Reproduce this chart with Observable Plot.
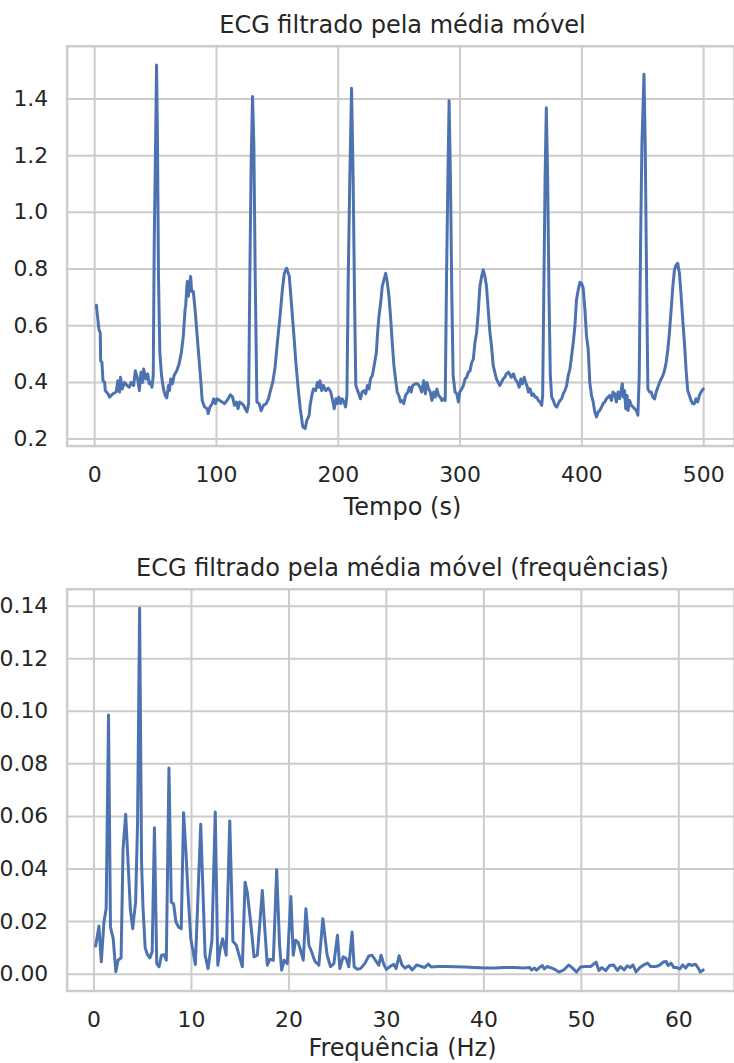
<!DOCTYPE html>
<html>
<head>
<meta charset="utf-8">
<script src="https://cdn.jsdelivr.net/npm/d3@7"></script>
<script src="https://cdn.jsdelivr.net/npm/@observablehq/plot@0.6"></script>
<style>
html,body{margin:0;padding:0;background:#fff;overflow:hidden;width:734px;height:1063px;}
#wrap{position:relative;width:734px;height:1063px;overflow:hidden;font-family:"DejaVu Sans",sans-serif;color:#262626;}
.txt{position:absolute;white-space:nowrap;transform:translateX(-50%);font-size:24px;line-height:1.164;}
.panel{position:absolute;left:0;}
.panel svg{overflow:visible;}
</style>
</head>
<body>
<div id="wrap">
  <div class="txt" style="left:402.5px;top:11.7px">ECG filtrado pela média móvel</div>
  <div class="panel" id="p1" style="top:0px"></div>
  <div class="txt" style="left:402.5px;top:493.7px">Tempo (s)</div>
  <div class="txt" style="left:402.5px;top:554.7px">ECG filtrado pela média móvel (frequências)</div>
  <div class="panel" id="p2" style="top:543px"></div>
  <div class="txt" style="left:402.5px;top:1034.5px">Frequência (Hz)</div>
</div>
<script>
// ---- ECG filtered by moving average (time domain) ----
const ecgT = [1.4,3.5,4.6,4.9,6,6.8,8.2,8.7,10.9,12.2,15,17.7,19,20.4,21.2,22.6,24.5,26.6,28.5,29.9,32,33.4,35.3,36.7,38,39.4,40.2,42.1,43.5,44.8,46.2,47,48.1,48.9,50,50.8,51.6,52.4,53.5,54.9,56.5,57.9,59.2,60.6,61.4,62.5,63.9,65.2,67.4,69.3,71.2,72.8,74.2,74.7,75.5,76.1,76.9,78,78.8,79.6,81,82.9,84.8,87,88.3,90.2,92.4,93.2,94.6,96.5,97.8,99.2,100.5,102.7,104.6,106.5,108.7,111.4,113.3,114.7,116.3,117.7,119,120.9,122.3,123.6,125,126.4,127.4,128.5,129.6,130.7,131.8,133.2,135,136.7,138.6,140.8,142.7,144,146.2,148.1,150,152.2,154.1,155.7,157.6,159.8,161.7,163.6,165.2,167.1,168.8,170.9,172.8,174.2,176.1,176.9,178.3,179.6,181.5,182.9,184.2,185,186.4,187.8,189.7,191.8,193.8,195.4,196.7,198.1,199.2,200.5,201.9,203.3,204.6,206,207.1,208.2,209.5,210.9,212.2,213.3,214.4,216.3,218.2,219.6,221.2,222.6,223.9,225.3,226.4,228,229.9,231.3,232.1,233.4,234.8,236.1,237.5,238.9,240.2,241.6,242.9,244.3,245.7,247,248.4,249.7,251.1,252.4,253.8,255.2,257.1,258.4,259.8,261.1,263.3,265.2,267.1,268.5,270.1,271.5,272.8,274.2,275.5,276.9,278.3,279.6,281,282.3,283.7,285.1,286.4,287.8,288.9,290,291,292.1,293.2,294.3,295.9,297.3,298.6,299.7,301.4,302.7,304.1,305.4,306.8,308.2,309.5,310.9,312.2,313.6,314.9,316.3,317.7,319,320.4,321.7,323.1,324.5,325.8,327.2,328.5,329.9,331.3,332.6,334,335.3,336.7,338,339.8,342,343.9,345.2,347.1,348.5,349.9,351.2,352.6,353.9,355.3,356.1,357.5,358.9,360.2,361.6,362.9,364.3,365.7,367,367.8,368.9,369.8,370.8,371.9,373,374.1,375.2,376.6,377.9,379.3,380.7,382,383.4,384.7,386.1,387.5,388.8,390.2,391.6,392.9,394.3,395.6,397,398.4,399.7,401.1,402.5,403.8,405.2,406.5,407.9,409.3,410.6,412,413.4,414.7,416.1,417.4,418.8,420.2,421.5,422.9,424.3,425.6,427,428.3,429.7,431.1,432.4,433.2,434.1,435.1,436,437.1,437.9,439.2,440.6,442,443.3,444.7,446,447.1,448.2,449.3,451,452,453.1,454.2,455.6,456.9,458.3,459.7,461,462.4,463.8,465.1,466.5,467.8,469.2,470.6,471.9,473.3,474.7,476,477.4,478.7,480.1,481.5,482.8,484.2,485.6,486.9,488.3,489.6,491,492.4,493.7,495.1,496.5,497.8,499.7];
const ecgV = [0.672,0.587,0.575,0.476,0.47,0.406,0.40,0.371,0.36,0.348,0.36,0.366,0.406,0.366,0.418,0.377,0.40,0.389,0.383,0.40,0.389,0.441,0.412,0.371,0.436,0.40,0.447,0.412,0.43,0.395,0.40,0.383,0.424,0.89,1.24,1.52,1.24,0.774,0.506,0.424,0.377,0.354,0.345,0.389,0.371,0.412,0.395,0.424,0.441,0.465,0.506,0.564,0.657,0.669,0.727,0.756,0.704,0.75,0.774,0.721,0.721,0.634,0.529,0.412,0.336,0.313,0.307,0.29,0.313,0.325,0.342,0.325,0.342,0.336,0.331,0.325,0.336,0.356,0.348,0.319,0.331,0.307,0.331,0.325,0.319,0.307,0.296,0.325,0.774,1.18,1.409,1.24,0.774,0.331,0.325,0.30,0.319,0.325,0.342,0.366,0.40,0.453,0.54,0.634,0.727,0.785,0.803,0.774,0.669,0.564,0.47,0.377,0.307,0.243,0.237,0.266,0.284,0.319,0.354,0.377,0.371,0.40,0.383,0.406,0.371,0.389,0.371,0.38,0.366,0.336,0.307,0.342,0.325,0.348,0.325,0.342,0.331,0.313,0.354,0.774,1.124,1.438,1.124,0.715,0.389,0.366,0.342,0.366,0.371,0.36,0.389,0.377,0.412,0.424,0.47,0.506,0.564,0.634,0.68,0.739,0.762,0.785,0.756,0.704,0.634,0.54,0.459,0.412,0.366,0.354,0.331,0.336,0.325,0.354,0.366,0.383,0.366,0.389,0.395,0.395,0.383,0.366,0.406,0.36,0.40,0.377,0.366,0.336,0.366,0.348,0.377,0.354,0.348,0.336,0.342,0.336,0.774,1.124,1.394,1.124,0.715,0.424,0.366,0.36,0.331,0.366,0.377,0.389,0.412,0.418,0.436,0.441,0.47,0.482,0.54,0.576,0.646,0.739,0.774,0.797,0.774,0.739,0.657,0.576,0.529,0.459,0.436,0.412,0.40,0.389,0.40,0.412,0.418,0.43,0.436,0.418,0.43,0.412,0.40,0.383,0.412,0.395,0.418,0.40,0.383,0.366,0.377,0.354,0.36,0.348,0.348,0.336,0.331,0.319,0.354,0.774,1.124,1.369,1.124,0.715,0.424,0.348,0.336,0.319,0.313,0.325,0.336,0.342,0.36,0.371,0.389,0.424,0.447,0.494,0.54,0.599,0.692,0.727,0.753,0.75,0.733,0.657,0.564,0.517,0.40,0.354,0.331,0.296,0.278,0.296,0.301,0.313,0.325,0.331,0.342,0.348,0.354,0.336,0.366,0.36,0.331,0.366,0.342,0.377,0.395,0.348,0.371,0.307,0.354,0.301,0.336,0.319,0.313,0.307,0.301,0.284,0.424,0.89,1.24,1.487,1.24,0.774,0.377,0.366,0.366,0.348,0.342,0.366,0.383,0.40,0.412,0.424,0.441,0.47,0.517,0.576,0.657,0.739,0.797,0.815,0.82,0.785,0.704,0.622,0.54,0.441,0.371,0.354,0.336,0.325,0.325,0.342,0.331,0.354,0.366,0.377];
const ecgXTicks = [0, 100, 200, 300, 400, 500];
const ecgYTicks = [0.2, 0.4, 0.6, 0.8, 1.0, 1.2, 1.4];

// ---- Spectrum of the filtered ECG ----
const freqHz = [0.17,0.51,0.75,1.02,1.25,1.49,1.69,1.97,2.24,2.47,2.78,2.98,3.25,3.53,3.73,3.97,4.27,4.47,4.68,4.88,5.02,5.25,5.49,5.73,5.97,6.2,6.44,6.68,6.92,7.19,7.42,7.69,7.93,8.17,8.41,8.68,8.95,9.19,9.42,9.66,9.93,10.4,10.95,11.4,11.7,12.1,12.44,12.7,12.95,13.2,13.56,13.93,14.25,14.6,14.88,15.22,15.5,15.73,16.07,16.42,16.76,17.27,17.5,17.78,18.05,18.4,18.74,19.04,19.25,19.52,19.83,20.2,20.44,20.68,20.96,21.19,21.47,21.74,22.05,22.32,22.66,23.07,23.48,23.92,24.27,24.61,24.98,25.22,25.56,25.87,26.14,26.48,26.69,27,27.34,27.78,28.19,28.53,28.87,29.22,29.45,29.73,30,30.41,30.75,30.99,31.3,31.6,31.9,32.3,32.65,33.1,33.6,33.9,34.3,34.6,35.3,36.2,37,38,39,40.1,41.1,42.1,43.1,44.1,44.7,44.9,45.2,45.4,45.7,46,46.2,46.5,47.2,47.7,48.2,48.7,49.1,49.5,49.9,50.4,50.95,51.5,51.8,52.1,52.5,52.9,53.3,53.7,54,54.4,54.7,55,55.3,55.6,56,56.4,56.8,57.1,57.6,58,58.4,58.7,58.9,59.2,59.5,59.8,60.1,60.4,60.7,61,61.3,61.7,62,62.2,62.5];
const freqAmp = [0.0107,0.0183,0.0047,0.0198,0.0251,0.0986,0.0179,0.0135,0.0009,0.0053,0.0062,0.0475,0.0608,0.040,0.0248,0.0173,0.0274,0.0576,0.1392,0.0425,0.0261,0.010,0.0074,0.0062,0.0085,0.0557,0.004,0.0028,0.0072,0.0074,0.0053,0.0784,0.0274,0.0267,0.0198,0.0179,0.0173,0.0614,0.0475,0.0299,0.0135,0.0037,0.057,0.0072,0.0021,0.0129,0.0617,0.0034,0.0097,0.0135,0.0072,0.0583,0.0125,0.011,0.0072,0.0028,0.035,0.031,0.0198,0.0066,0.0072,0.0318,0.0185,0.0034,0.0057,0.0053,0.0397,0.011,0.0015,0.0053,0.004,0.0295,0.0072,0.0129,0.012,0.0091,0.0053,0.0249,0.011,0.0085,0.0049,0.0034,0.0211,0.0072,0.0028,0.004,0.0148,0.0021,0.0066,0.0059,0.0028,0.016,0.0028,0.0019,0.0021,0.004,0.0069,0.0072,0.0053,0.0034,0.0072,0.0037,0.0018,0.003,0.0037,0.0021,0.007,0.0035,0.0023,0.0032,0.0016,0.0035,0.0029,0.0025,0.0038,0.0027,0.0029,0.0029,0.0028,0.0027,0.0025,0.0023,0.0023,0.0025,0.0025,0.0023,0.0025,0.0016,0.0023,0.0015,0.0025,0.0033,0.002,0.0029,0.002,0.0008,0.0016,0.0035,0.0023,0.0008,0.0027,0.0029,0.0029,0.0046,0.0014,0.0025,0.0014,0.0033,0.0035,0.0014,0.0029,0.0016,0.0032,0.0025,0.0035,0.0008,0.0025,0.0035,0.0042,0.0029,0.0029,0.0033,0.0046,0.0048,0.0033,0.0042,0.0025,0.0025,0.002,0.0035,0.0023,0.0038,0.0033,0.0038,0.0023,0.0008,0.0016];
const freqXTicks = [0, 10, 20, 30, 40, 50, 60];
const freqYTicks = [0.00, 0.02, 0.04, 0.06, 0.08, 0.10, 0.12, 0.14];

const ecg = ecgT.map((t, i) => ({t, v: ecgV[i]}));
const spec = freqHz.map((f, i) => ({f, a: freqAmp[i]}));

const BLUE = "#4c72b0", GRID = "#cccccc", INK = "#262626";
const baseStyle = {fontFamily: "'DejaVu Sans', sans-serif", fontSize: "22px", color: INK, background: "transparent", overflow: "visible"};

function panel({data, x, y, xDomain, yDomain, xTicks, yTicks, yFmt, height, marginTop, marginBottom}) {
  return Plot.plot({
    width: 738, height,
    marginLeft: 67, marginRight: 0, marginTop, marginBottom,
    style: baseStyle,
    x: {domain: xDomain, label: null},
    y: {domain: yDomain, label: null},
    marks: [
      Plot.gridX(xTicks, {stroke: GRID, strokeOpacity: 1, strokeWidth: 2}),
      Plot.gridY(yTicks, {stroke: GRID, strokeOpacity: 1, strokeWidth: 2}),
      Plot.frame({stroke: GRID, strokeWidth: 2.5}),
      Plot.line(data, {x, y, stroke: BLUE, strokeWidth: 3, strokeLinejoin: "round", strokeLinecap: "round"}),
      Plot.axisX(xTicks, {tickSize: 0, tickPadding: 21, tickFormat: d => String(d), label: null, fill: INK}),
      Plot.axisY(yTicks, {tickSize: 0, tickPadding: 19, tickFormat: yFmt, label: null, fill: INK})
    ]
  });
}

document.getElementById("p1").append(panel({
  data: ecg, x: "t", y: "v",
  xDomain: [-22.6, 525.3], yDomain: [0.1754, 1.586],
  xTicks: ecgXTicks, yTicks: ecgYTicks, yFmt: d3.format(".1f"),
  height: 500, marginTop: 46, marginBottom: 52
}));

document.getElementById("p2").append(panel({
  data: spec, x: "f", y: "a",
  xDomain: [-2.755, 65.71], yDomain: [-0.00643, 0.14643],
  xTicks: freqXTicks, yTicks: freqYTicks, yFmt: d3.format(".2f"),
  height: 520, marginTop: 46, marginBottom: 70
}));
</script>
</body>
</html>
